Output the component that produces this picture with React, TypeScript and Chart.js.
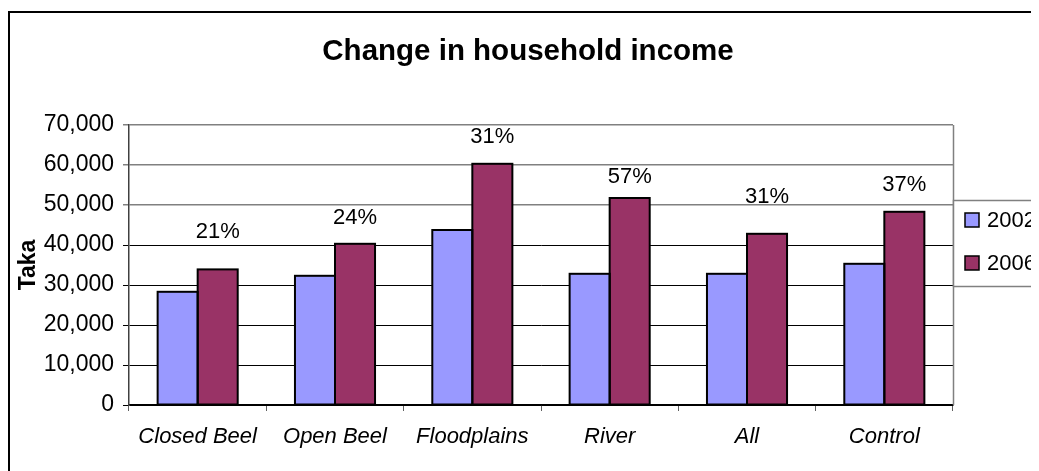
import React, { useEffect, useRef } from "react";
import { Chart, registerables } from "chart.js";

Chart.register(...registerables);

const categories = ["Closed Beel", "Open Beel", "Floodplains", "River", "All", "Control"];
const seriesNames = ["2002", "2006"];
const income2002 = [28300, 32300, 43750, 32800, 32800, 35300];
const income2006 = [33900, 40300, 60300, 51750, 42800, 48300];
const changeLabels = ["21%", "24%", "31%", "57%", "31%", "37%"];
// vertical anchor of each change label, in Taka (value-axis units)
const changeLabelAt = [43250, 46750, 66900, 57100, 52100, 55000];
const yTicksMax = 70000;
const yTicksStep = 10000;
const titleText = "Change in household income";
const yAxisTitle = "Taka";

const FONT = "'Liberation Sans', Arial, sans-serif";
const BLUE = "#9999FF";
const PLUM = "#993366";

export default function App() {
  const ref = useRef<HTMLCanvasElement | null>(null);

  useEffect(() => {
    if (!ref.current) return;
    Chart.defaults.font.family = FONT;

    const decor = {
      id: "decor",
      beforeDraw(chart: any) {
        const ctx = chart.ctx;
        ctx.save();
        ctx.fillStyle = "#ffffff";
        ctx.fillRect(0, 0, chart.width, chart.height);
        ctx.restore();
      },
      afterDatasetsDraw(chart: any) {
        // crisp black outlines on the bars
        const ctx = chart.ctx;
        ctx.save();
        ctx.strokeStyle = "#000000";
        ctx.lineWidth = 2;
        chart.data.datasets.forEach((_: any, di: number) => {
          chart.getDatasetMeta(di).data.forEach((bar: any) => {
            const p = bar.getProps(["x", "y", "base", "width"], true);
            const left = p.x - p.width / 2;
            ctx.strokeRect(left, p.y, p.width, p.base - p.y);
          });
        });
        ctx.restore();
      },
      afterDraw(chart: any) {
        const ctx = chart.ctx;
        const area = chart.chartArea;
        const y = chart.scales.y;
        ctx.save();
        // outer frame
        ctx.strokeStyle = "#000000";
        ctx.lineWidth = 2;
        ctx.strokeRect(1, 4, 2000, 2000);
        // plot area right border
        ctx.strokeStyle = "#808080";
        ctx.lineWidth = 1.5;
        ctx.beginPath();
        ctx.moveTo(area.right + 0.5, area.top);
        ctx.lineTo(area.right + 0.5, area.bottom);
        ctx.stroke();
        // title
        ctx.fillStyle = "#000000";
        ctx.font = `bold 29.5px ${FONT}`;
        ctx.textAlign = "center";
        ctx.textBaseline = "alphabetic";
        ctx.fillText(titleText, 520, 52);
        // y axis title
        ctx.save();
        ctx.translate(20.5, (area.top + area.bottom) / 2);
        ctx.rotate(-Math.PI / 2);
        ctx.font = `bold 23px ${FONT}`;
        ctx.textAlign = "center";
        ctx.textBaseline = "middle";
        ctx.fillText(yAxisTitle, 0, 0);
        ctx.restore();
        // change labels
        const meta = chart.getDatasetMeta(1);
        ctx.font = `22px ${FONT}`;
        ctx.textAlign = "center";
        ctx.textBaseline = "middle";
        changeLabels.forEach((t, i) => {
          const bar = meta.data[i];
          ctx.fillText(t, bar.x, y.getPixelForValue(changeLabelAt[i]));
        });
        // legend
        const lx = area.right;
        const ly = 192.5;
        ctx.fillStyle = "#ffffff";
        ctx.fillRect(lx, ly, 200, 86);
        ctx.strokeStyle = "#808080";
        ctx.lineWidth = 1.5;
        ctx.strokeRect(lx + 0.5, ly, 200, 86);
        const colors = [BLUE, PLUM];
        seriesNames.forEach((name, i) => {
          const cy = 212 + i * 43;
          ctx.fillStyle = colors[i];
          ctx.fillRect(lx + 12, cy - 7, 14, 14);
          ctx.strokeStyle = "#000000";
          ctx.lineWidth = 1.5;
          ctx.strokeRect(lx + 12, cy - 7, 14, 14);
          ctx.fillStyle = "#000000";
          ctx.font = `22px ${FONT}`;
          ctx.textAlign = "left";
          ctx.textBaseline = "alphabetic";
          ctx.fillText(name, lx + 34, cy + 7);
        });
        ctx.restore();
      },
    };

    const chart = new Chart(ref.current, {
      type: "bar",
      data: {
        labels: categories,
        datasets: [
          {
            label: seriesNames[0],
            data: income2002,
            backgroundColor: BLUE,
            borderWidth: 0,
            categoryPercentage: 0.583,
            barPercentage: 1,
          },
          {
            label: seriesNames[1],
            data: income2006,
            backgroundColor: PLUM,
            borderWidth: 0,
            categoryPercentage: 0.583,
            barPercentage: 1,
          },
        ],
      },
      options: {
        responsive: false,
        animation: false,
        layout: { padding: { top: 117, right: 86, bottom: 0, left: 0 } },
        plugins: {
          legend: { display: false },
          title: { display: false },
          tooltip: { enabled: false },
        },
        scales: {
          x: {
            afterFit: (s: any) => {
              s.height = 66;
            },
            grid: {
              offset: true,
              drawOnChartArea: false,
              drawTicks: true,
              tickLength: 6,
              color: "#606060",
            },
            border: { color: "#000000", width: 1.5 },
            ticks: {
              color: "#000000",
              font: { size: 22, style: "italic", family: FONT },
              padding: 13,
              maxRotation: 0,
              autoSkip: false,
            },
          },
          y: {
            min: 0,
            max: yTicksMax,
            afterFit: (s: any) => {
              s.width = 121;
            },
            grid: {
              color: (c: any) => (c.tick && c.tick.value >= 50000 ? "#808080" : "#000000"),
              lineWidth: (c: any) => (c.tick && c.tick.value >= 50000 ? 1.5 : 1),
              tickLength: 6,
            },
            border: { color: "#404040", width: 1.5 },
            ticks: {
              stepSize: yTicksStep,
              color: "#000000",
              font: { size: 23, family: FONT },
              padding: 9,
              callback: (v: any) => Number(v).toLocaleString("en-US"),
            },
          },
        },
      },
      plugins: [decor],
    });
    return () => chart.destroy();
  }, []);

  return (
    <div style={{ width: 1031, height: 463 }}>
      <canvas ref={ref} width={1031} height={463} style={{ display: "block" }} />
    </div>
  );
}
